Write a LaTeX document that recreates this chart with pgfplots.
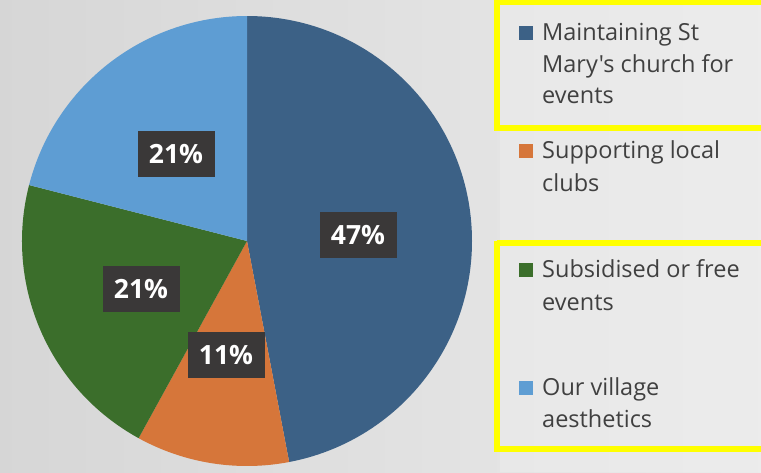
\documentclass[border=0pt]{standalone}
\usepackage{pgfplots}
\usepackage{pgfplotstable}
\pgfplotsset{compat=1.18}
\usepackage{fontspec}
\setmainfont{Open Sans}[Ligatures=TeXOff]
\definecolor{cA}{HTML}{3C6186}
\definecolor{cB}{HTML}{D6763A}
\definecolor{cC}{HTML}{3B6E2B}
\definecolor{cD}{HTML}{5E9DD3}
\definecolor{txt}{HTML}{404040}
\definecolor{lbl}{HTML}{3A3838}
\definecolor{hl}{HTML}{FFFF00}
\pgfplotstableread{
share
47
11
21
21
}\piedata
\pgfplotstablegetelem{0}{share}\of\piedata \edef\va{\pgfplotsretval}
\pgfplotstablegetelem{1}{share}\of\piedata \edef\vb{\pgfplotsretval}
\pgfplotstablegetelem{2}{share}\of\piedata \edef\vc{\pgfplotsretval}
\pgfplotstablegetelem{3}{share}\of\piedata \edef\vd{\pgfplotsretval}
\pgfmathsetmacro\sA{90}
\pgfmathsetmacro\sB{90-3.6*\va}
\pgfmathsetmacro\sC{90-3.6*(\va+\vb)}
\pgfmathsetmacro\sD{90-3.6*(\va+\vb+\vc)}
\newcommand\legfont{\fontsize{23.5}{28}\selectfont}
\newcommand\lblfont{\bfseries\fontsize{26.5}{26}\selectfont}
\begin{document}
\begin{tikzpicture}
\begin{axis}[x=1pt,y=1pt,scale only axis,hide axis,
  xmin=0,xmax=761,ymin=0,ymax=472,y dir=reverse,clip=true]
\fill[left color=black!16,right color=black!8] (axis cs:0,0) rectangle (axis cs:761,472);
\fill[black!7,opacity=0.5] (axis cs:500,0) rectangle (axis cs:761,472);
% pie
\fill[cA] (axis cs:247,241) -- ++(\sA:225pt) arc[start angle=\sA, delta angle=-3.6*\va, radius=225pt] -- cycle;
\fill[cB] (axis cs:247,241) -- ++(\sB:225pt) arc[start angle=\sB, delta angle=-3.6*\vb, radius=225pt] -- cycle;
\fill[cC] (axis cs:247,241) -- ++(\sC:225pt) arc[start angle=\sC, delta angle=-3.6*\vc, radius=225pt] -- cycle;
\fill[cD] (axis cs:247,241) -- ++(\sD:225pt) arc[start angle=\sD, delta angle=-3.6*\vd, radius=225pt] -- cycle;
% data labels
\tikzset{dl/.style={fill=lbl,text=white,font=\lblfont,minimum width=77pt,minimum height=46pt,inner sep=0pt}}
\node[dl] at (axis cs:358,235) {\va\%};
\node[dl] at (axis cs:226,355) {\vb\%};
\node[dl] at (axis cs:141,289) {\vc\%};
\node[dl] at (axis cs:176,154) {\vd\%};
% highlight boxes
\draw[hl,line width=5.5pt] (axis cs:497,2) -- (axis cs:800,2);
\draw[hl,line width=5.5pt] (axis cs:497,128) -- (axis cs:800,128);
\draw[hl,line width=5.5pt] (axis cs:497,-1) -- (axis cs:497,130.5);
\draw[hl,line width=5.5pt] (axis cs:497,243) -- (axis cs:800,243);
\draw[hl,line width=5.5pt] (axis cs:497,449) -- (axis cs:800,449);
\draw[hl,line width=5.5pt] (axis cs:497,240.5) -- (axis cs:497,451.5);
% legend
\tikzset{lt/.style={anchor=base west,text=txt,font=\legfont,inner sep=0pt}}
\fill[cA] (axis cs:519,26) rectangle (axis cs:533,40);
\node[lt] at (axis cs:542,40) {Maintaining St};
\node[lt] at (axis cs:542,72) {Mary's church for};
\node[lt] at (axis cs:542,103) {events};
\fill[cB] (axis cs:519,144) rectangle (axis cs:533,158);
\node[lt] at (axis cs:542,158) {Supporting local};
\node[lt] at (axis cs:542,191) {clubs};
\fill[cC] (axis cs:519,263) rectangle (axis cs:533,277);
\node[lt] at (axis cs:542,277) {Subsidised or free};
\node[lt] at (axis cs:542,310) {events};
\fill[cD] (axis cs:519,381) rectangle (axis cs:533,395);
\node[lt] at (axis cs:542,395) {Our village};
\node[lt] at (axis cs:542,427) {aesthetics};
\end{axis}
\end{tikzpicture}
\end{document}
